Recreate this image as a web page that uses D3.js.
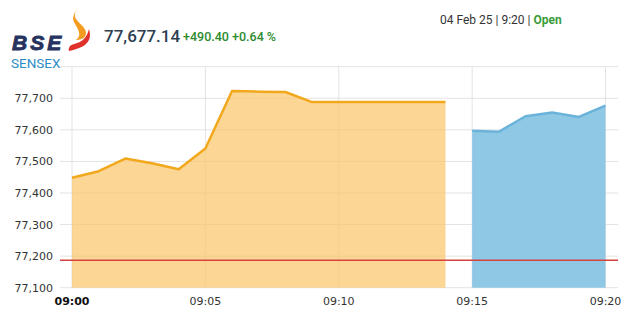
<!DOCTYPE html>
<html>
<head>
<meta charset="utf-8">
<script src="https://cdn.jsdelivr.net/npm/d3@7/dist/d3.min.js"></script>
<style>
  html, body { margin: 0; padding: 0; background: #fff; }
  #chart { width: 641px; height: 330px; }
</style>
</head>
<body>
<div id="chart"></div>
<script>
/* Sensex intraday mini chart */

// minutes after 09:00
var SESSION1_MIN = [0, 1, 2, 3, 4, 5, 6, 7, 8, 9, 10, 11, 12, 13, 14];
var SESSION1_VAL = [77448, 77469, 77509, 77494, 77475, 77541, 77723, 77721, 77720, 77688, 77688, 77688, 77688, 77688, 77688];
var SESSION2_MIN = [15, 16, 17, 18, 19, 20];
var SESSION2_VAL = [77597, 77594, 77643, 77655, 77641, 77677];
var PREV_CLOSE = 77186.74;
var Y_TICKS = [77100, 77200, 77300, 77400, 77500, 77600, 77700, 77800];
var X_TICKS = [0, 5, 10, 15, 20];
var X_LABELS = ["09:00", "09:05", "09:10", "09:15", "09:20"];

var width = 641, height = 330;
var svg = d3.select("#chart").append("svg")
  .attr("width", width).attr("height", height)
  .style("font-family", "Roboto, sans-serif");

var x = d3.scaleLinear().domain([0, 20]).range([72, 605.5]);
var y = d3.scaleLinear().domain([77100, 77800]).range([287.7, 66.7]);
var gridLeft = 60, gridRight = 618;

// horizontal grid + y labels
Y_TICKS.forEach(function(t) {
  svg.append("line")
    .attr("x1", gridLeft).attr("x2", gridRight)
    .attr("y1", y(t)).attr("y2", y(t))
    .attr("stroke", "#e3e3e3").attr("stroke-width", 1);
  if (t < 77800) {
    svg.append("text")
      .attr("x", 53).attr("y", y(t) + 4)
      .attr("text-anchor", "end")
      .attr("font-family", "'DejaVu Sans', Verdana, sans-serif")
      .attr("font-size", "11px")
      .attr("fill", "#333")
      .text(d3.format(",")(t));
  }
});

// vertical grid + x labels
X_TICKS.forEach(function(t, i) {
  svg.append("line")
    .attr("x1", x(t)).attr("x2", x(t))
    .attr("y1", 67).attr("y2", 288)
    .attr("stroke", "#e3e3e3").attr("stroke-width", 1);
  svg.append("text")
    .attr("x", x(t)).attr("y", 305)
    .attr("text-anchor", "middle")
    .attr("font-family", "'DejaVu Sans', Verdana, sans-serif")
    .attr("font-size", "11px")
    .attr("font-weight", i === 0 ? "bold" : "normal")
    .attr("fill", i === 0 ? "#111" : "#333")
    .text(X_LABELS[i]);
});

function drawSession(mins, vals, fill, stroke) {
  var data = mins.map(function(m, i) { return [m, vals[i]]; });
  var area = d3.area()
    .x(function(d) { return x(d[0]); })
    .y0(y(77100))
    .y1(function(d) { return y(d[1]); });
  var line = d3.line()
    .x(function(d) { return x(d[0]); })
    .y(function(d) { return y(d[1]); });
  svg.append("path").datum(data).attr("d", area)
    .attr("fill", fill);
  svg.append("path").datum(data).attr("d", line)
    .attr("fill", "none").attr("stroke", stroke)
    .attr("stroke-width", 2.5).attr("stroke-linejoin", "round");
}

drawSession(SESSION1_MIN, SESSION1_VAL, "rgba(251,196,104,0.7)", "#f2a81d");
drawSession(SESSION2_MIN, SESSION2_VAL, "#8fc8e4", "#6ab3da");

// previous close line
svg.append("line")
  .attr("x1", gridLeft).attr("x2", gridRight)
  .attr("y1", y(PREV_CLOSE)).attr("y2", y(PREV_CLOSE))
  .attr("stroke", "#d4433d").attr("stroke-width", 1.6);

// header: logo
var logo = svg.append("g");
logo.append("path")
  .attr("d", "M77,10 C69,20 86,24 86,33 C86,38 81,40 76,40 C83,35 77,28 74,22 C72,18 74,13 77,10 Z")
  .attr("fill", "#f39c1f");
logo.append("path")
  .attr("d", "M89,29 C92,39 89,47 69,51 C68,48 70,45 74,44 C83,42 87,37 89,29 Z")
  .attr("fill", "#e0322b");
logo.append("text")
  .attr("x", 12).attr("y", 50)
  .attr("font-family", "'Liberation Sans', Arial, sans-serif")
  .attr("font-size", "21px").attr("font-weight", "bold").attr("font-style", "italic")
  .attr("fill", "#27335f").attr("stroke", "#27335f").attr("stroke-width", 0.9)
  .attr("letter-spacing", "3")
  .text("BSE");
logo.append("text")
  .attr("x", 11).attr("y", 68)
  .attr("font-size", "13.5px")
  .attr("fill", "#2c8cc6")
  .text("SENSEX");

svg.append("text")
  .attr("x", 104).attr("y", 42)
  .attr("font-size", "17px").attr("font-weight", 500)
  .attr("fill", "#2c3e50")
  .text("77,677.14");
svg.append("text")
  .attr("x", 183).attr("y", 41)
  .attr("font-size", "12.5px").attr("font-weight", 500)
  .attr("fill", "#2e8b2e")
  .text("+490.40 +0.64 %");

var dt = svg.append("text")
  .attr("x", 440).attr("y", 24)
  .attr("font-size", "12px")
  .attr("fill", "#333");
dt.append("tspan").text("04 Feb 25 | 9:20 | ");
dt.append("tspan").attr("font-weight", "bold").attr("fill", "#3a9c3a").text("Open");
</script>
</body>
</html>
